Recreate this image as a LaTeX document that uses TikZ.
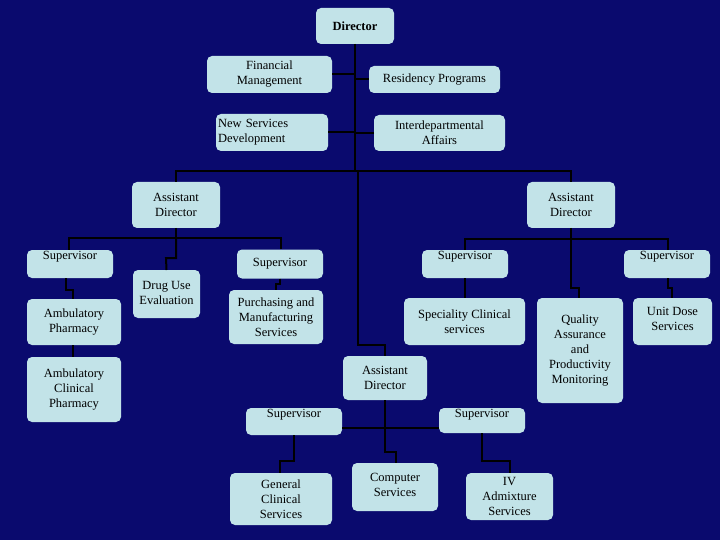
\documentclass[tikz,border=0pt]{standalone}
\usepackage{fontspec}
\setmainfont{Liberation Serif}
\begin{document}
\begin{tikzpicture}[x=1pt,y=-1pt,
  bxs/.style={draw=none,fill=boxc,rounded corners=5pt,inner sep=0pt,outer sep=0pt,align=center,font=\fontsize{12.5}{15}\selectfont},
  ln/.style={draw=black,line width=2pt}]
\definecolor{bg}{HTML}{0A0A6E}
\definecolor{boxc}{HTML}{C2E3E8}
\fill[bg] (0,0) rectangle (720,540);
\useasboundingbox (0,0) rectangle (720,540);
\newcommand\bx[6]{\node[bxs,minimum width={(#4-#2)*1pt},minimum height={(#5-#3)*1pt}] (#1) at ({(#2+#4)/2},{(#3+#5)/2}) {#6};}
\newcommand\bt[5]{\node[bxs,minimum width={(#4-#2)*1pt},minimum height={(#5-#3)*1pt},label={[anchor=north,inner sep=1pt,font=\fontsize{12.5}{15}\selectfont]north:Supervisor}] (#1) at ({(#2+#4)/2},{(#3+#5)/2}) {};}
% connectors first
\coordinate (t1) at (355,170);
\coordinate (c1) at (358,345);
\coordinate (c2) at (385,345);
\coordinate (bl) at (176,171);
\coordinate (br) at (571,171);
% boxes
\bx{dir}{316}{8}{394}{44}{\textbf{Director}}
\bx{fin}{207}{56}{332}{93}{Financial\\Management}
\bx{res}{369}{66}{500}{93}{Residency Programs}
\node[bxs,minimum width=112pt,minimum height=37pt,align=left,text width=108pt] (nsd) at (272,132.5) {New Services\\Development};
\bx{inter}{374}{115}{505}{151}{Interdepartmental\\Affairs}
\bx{adl}{132}{182}{220}{228}{Assistant\\Director}
\bx{adr}{527}{182}{615}{228}{Assistant\\Director}
\bt{sl}{27}{250}{113}{278}
\bx{drug}{133}{270}{200}{318}{Drug Use\\Evaluation\\[-12pt]}
\node[bxs,minimum width=86pt,minimum height=29pt] (sm) at (280,264) {Supervisor};
\bx{amb}{27}{299}{121}{345}{Ambulatory\\Pharmacy}
\bx{ambc}{27}{357}{121}{422}{Ambulatory\\Clinical\\Pharmacy}
\bx{pur}{229}{290}{323}{344}{Purchasing and\\Manufacturing\\Services}
\bt{sr1}{422}{250}{508}{278}
\bx{spec}{404}{298}{525}{345}{Speciality Clinical\\services}
\bx{qual}{537}{298}{623}{403}{Quality\\Assurance\\and\\Productivity\\Monitoring}
\bt{sr2}{624}{250}{710}{278}
\bx{unit}{633}{298}{712}{345}{Unit Dose\\Services\\[-10pt]}
\bx{adb}{343}{356}{427}{400}{Assistant\\Director}
\bt{sb1}{246}{408}{342}{435}
\bt{sb2}{439}{408}{525}{433}
\bx{comp}{352}{463}{438}{511}{Computer\\Services\\[-10pt]}
\bx{gen}{230}{473}{332}{525}{General\\Clinical\\Services}
\bx{iv}{466}{473}{553}{520}{IV\\Admixture\\Services}
% connectors
\begin{scope}[on background layer/.style={}]
\end{scope}
\draw[ln] (dir.south) -- (t1);
\draw[ln] (fin.east) -- (fin.east -| dir.south);
\draw[ln] (res.west) -- (res.west -| dir.south);
\draw[ln] (nsd.east) -- (nsd.east -| dir.south);
\draw[ln] (inter.west) -- (inter.west -| dir.south);
\draw[ln] (adl.north) -- (bl) -- (br) -- (adr.north);
\draw[ln] (358,171) -- (c1) -- (c2) -- (adb.north);
% left subtree
\draw[ln] (adl.south) -- (176,238) -- (69,238) -- (69,250);
\draw[ln] (176,238) -- (281,238) -- (281,249);
\draw[ln] (176,238) -- (176,258) -- (166,258) -- (drug.north);
\draw[ln] (66,278) -- (66,290) -- (73,290) -- (73,299);
\draw[ln] (73,345) -- (73,357);
\draw[ln] (280,278.5) -- (280,284) -- (276,284) -- (276,290);
% right subtree
\draw[ln] (adr.south) -- (571,239) -- (465,239) -- (465,250);
\draw[ln] (571,239) -- (668,239) -- (668,250);
\draw[ln] (465,278) -- (465,298);
\draw[ln] (571,239) -- (571,288) -- (579,288) -- (579,298);
\draw[ln] (668,278) -- (668,288) -- (672,288) -- (672,298);
% bottom subtree
\draw[ln] (adb.south) -- (385,452) -- (396,452) -- (396,463);
\draw[ln] (342,428) -- (439,428);
\draw[ln] (294,435) -- (294,461) -- (280,461) -- (280,473);
\draw[ln] (482,433) -- (482,461) -- (510,461) -- (510,473);
% redraw boxes on top
\foreach \n in {dir,fin,res,nsd,inter,adl,adr,sl,drug,sm,amb,ambc,pur,sr1,spec,qual,sr2,unit,adb,sb1,sb2,comp,gen,iv}{}
\end{tikzpicture}
\end{document}
